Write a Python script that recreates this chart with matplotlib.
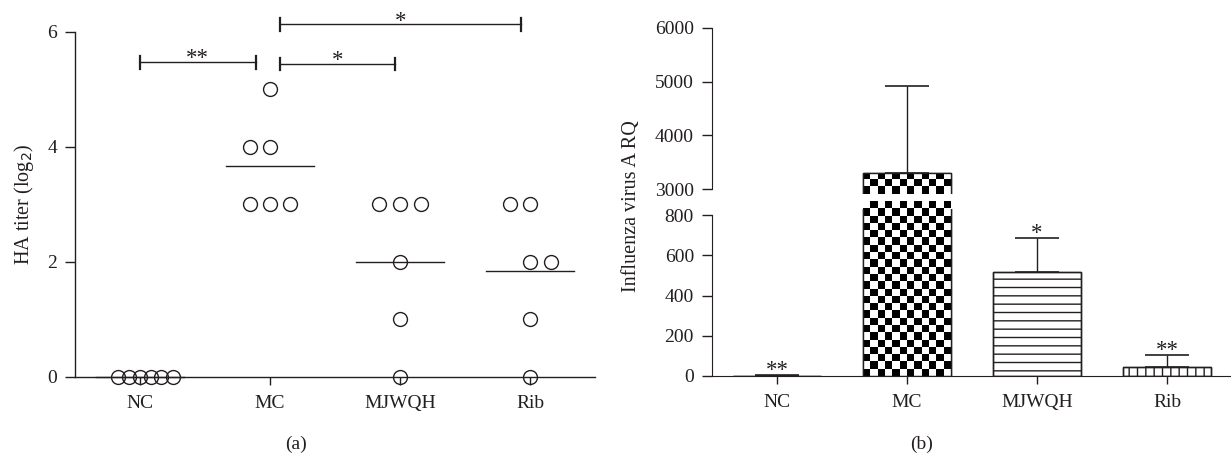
import numpy as np
import matplotlib
matplotlib.use("Agg")
import matplotlib.pyplot as plt

# ---------------- data ----------------
categories = ["NC", "MC", "MJWQH", "Rib"]

# panel (a): HA titer (log2) individual values
ha_NC = [0, 0, 0, 0, 0, 0]
ha_MC = [5, 4, 4, 3, 3, 3]
ha_MJWQH = [3, 3, 3, 2, 1, 0]
ha_Rib = [3, 3, 2, 2, 1, 0]
# horizontal jitter offsets (category units) for each point
off_NC = [-0.17, -0.085, 0.0, 0.085, 0.165, 0.25]
off_MC = [0.0, -0.155, 0.0, -0.155, 0.0, 0.155]
off_MJWQH = [-0.16, 0.0, 0.16, 0.0, 0.0, 0.0]
off_Rib = [-0.155, 0.0, 0.0, 0.16, 0.0, 0.0]

# significance brackets (a): x1, x2, y, label
brackets_a = [
    (0.0, 0.89, 5.47, "**"),
    (1.08, 1.96, 5.44, "*"),
    (1.08, 2.93, 6.13, "*"),
]

# panel (b): Influenza virus A RQ
rq_mean = [2, 3300, 515, 45]
rq_err = [3, 1620, 170, 60]
rq_sig = ["**", "", "*", "**"]

# ---------------- style ----------------
plt.rcParams["font.family"] = ["Liberation Serif", "DejaVu Serif"]
plt.rcParams["hatch.linewidth"] = 1.0
INK = "#231f20"
FS = 14
FSL = 14.5
FSS = 16.5

W, H = 1231, 459
fig = plt.figure(figsize=(W / 100, H / 100), dpi=100)

def px_axes(x0, y_bottom, w, h):
    return fig.add_axes([x0 / W, (H - y_bottom) / H, w / W, h / H])

x = np.arange(len(categories))

# ================= panel (a) =================
axA = px_axes(75, 376.7, 520, 345)
axA.set_xlim(-0.5, 3.5)
axA.set_ylim(0, 6)
for s in ["top", "right"]:
    axA.spines[s].set_visible(False)
for s in ["left", "bottom"]:
    axA.spines[s].set_color(INK)
    axA.spines[s].set_linewidth(1.0)
axA.set_yticks([0, 2, 4, 6])
axA.set_xticks(x)
axA.set_xticklabels(categories)
axA.tick_params(axis="y", direction="out", length=7, width=1, color=INK,
                labelsize=FS, labelcolor=INK, pad=6)
axA.tick_params(axis="x", direction="out", length=6, width=1, color=INK,
                labelsize=FS, labelcolor=INK, pad=7)
axA.set_ylabel("HA titer (log$_2$)", fontsize=FSL, color=INK)
axA.yaxis.set_label_coords(-0.075, 0.5)

groups = [(ha_NC, off_NC), (ha_MC, off_MC), (ha_MJWQH, off_MJWQH), (ha_Rib, off_Rib)]
for i, (vals, offs) in enumerate(groups):
    xs = i + np.array(offs)
    axA.plot(xs, vals, linestyle="none", marker="o", ms=10, mfc="none",
             mec=INK, mew=1.0, clip_on=False, zorder=4)
    m = np.mean(vals)
    axA.plot([i - 0.335, i + 0.335], [m, m], color=INK, lw=1.0, clip_on=False, zorder=3)

for x1, x2, yb, lab in brackets_a:
    axA.plot([x1, x2], [yb, yb], color=INK, lw=1.0, clip_on=False)
    axA.plot([x1, x1], [yb - 0.11, yb + 0.11], color=INK, lw=1.6, clip_on=False)
    axA.plot([x2, x2], [yb - 0.11, yb + 0.11], color=INK, lw=1.6, clip_on=False)
    axA.text((x1 + x2) / 2, yb - 0.04, lab, ha="center", va="baseline",
             fontsize=FSS, color=INK)

fig.text(296 / W, 1 - 444 / H, "(a)", ha="center", va="center", fontsize=FS, color=INK)

# ================= panel (b) =================
axL = px_axes(712, 376, 520, 167)
axU = px_axes(712, 194, 520, 166)

for ax in (axL, axU):
    for s in ["top", "right"]:
        ax.spines[s].set_visible(False)
    ax.spines["left"].set_color(INK)
    ax.spines["bottom"].set_color(INK)
    ax.tick_params(axis="y", direction="out", length=7, width=1, color=INK,
                   labelsize=FS, labelcolor=INK, pad=6)
axU.spines["bottom"].set_visible(False)
axU.set_xticks([])
axU.set_yticks([3000, 4000, 5000, 6000])
axU.spines["left"].set_bounds(3000, 6000)
axL.set_yticks([0, 200, 400, 600, 800])
axL.spines["left"].set_bounds(0, 800)
axL.set_xticks(x)
axL.set_xticklabels(categories)
axL.tick_params(axis="x", direction="out", length=6, width=1, color=INK,
                labelsize=FS, labelcolor=INK, pad=7)
axL.set_ylabel("Influenza virus A RQ", fontsize=FSL, color=INK)
axL.yaxis.set_label_coords(-0.137, 1.02)

bw = 0.67
hatches = [None, None, "--", "||"]

def checker_fill(ax, bar):
    # fill a bar patch with a black/white checkerboard (12 squares across)
    ncols = 12
    x0, y0 = bar.get_x(), bar.get_y()
    x1, y1 = x0 + bar.get_width(), y0 + bar.get_height()
    ylo, yhi = ax.get_ylim()
    y0c, y1c = max(y0, ylo), min(y1, yhi)
    p0 = ax.transData.transform((x0, y0c))
    p1 = ax.transData.transform((x1, y1c))
    sq = (p1[0] - p0[0]) / ncols
    nrows = max(1, int(np.ceil((p1[1] - p0[1]) / sq)))
    yy, xx = np.mgrid[0:nrows, 0:ncols]
    img = ((xx + yy) % 2).astype(float)
    top_px = p0[1] + nrows * sq
    y_top = ax.transData.inverted().transform((p0[0], top_px))[1]
    im = ax.imshow(img, cmap="gray", vmin=0, vmax=1, extent=(x0, x1, y0c, y_top),
                   origin="lower", aspect="auto", interpolation="nearest", zorder=2)
    im.set_clip_path(bar)

for ax, ylim in ((axL, (0, 830)), (axU, (2907, 6000))):
    ax.set_xlim(-0.5, 3.5)
    ax.set_ylim(*ylim)
    bars = ax.bar(x, rq_mean, width=bw, color="white", edgecolor=INK, linewidth=1.0, zorder=2)
    for b, h in zip(bars, hatches):
        if h:
            b.set_hatch(h)
    checker_fill(ax, bars[1])
    ax.bar(x, rq_mean, width=bw, color="none", edgecolor=INK, linewidth=1.0, zorder=3)
    ax.errorbar(x, rq_mean, yerr=[np.zeros(len(x)), rq_err], fmt="none",
                ecolor=INK, elinewidth=1.0, capsize=15.5, capthick=1.2, zorder=4)
    ax.set_xlim(-0.5, 3.5)
    ax.set_ylim(*ylim)

for i, lab in enumerate(rq_sig):
    if lab:
        axL.text(x[i], rq_mean[i] + rq_err[i] - 6, lab, ha="center", va="baseline",
                 fontsize=FSS, color=INK)

fig.text(922 / W, 1 - 444 / H, "(b)", ha="center", va="center", fontsize=FS, color=INK)

fig.savefig("out.png", dpi=100, facecolor="white")
